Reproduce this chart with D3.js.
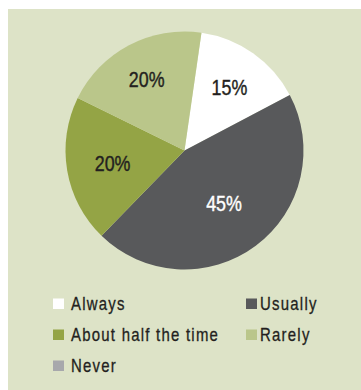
<!DOCTYPE html>
<html>
<head>
<meta charset="utf-8">
<script src="https://cdn.jsdelivr.net/npm/d3@7/dist/d3.min.js"></script>
<style>
  html, body { margin: 0; padding: 0; background: #ffffff; }
  svg { display: block; }
  .pct { font-family: "Liberation Sans", Arial, sans-serif; font-size: 21.5px; stroke-width: 0.4px; }
  .leg { font-family: "Liberation Sans", Arial, sans-serif; font-size: 18px; letter-spacing: 1.5px; fill: #231f20; stroke: #231f20; stroke-width: 0.3px; }
</style>
</head>
<body>
<svg id="chart" width="361" height="390"></svg>
<script>
// Survey answers and their shares (percent)
const categories = ["Always", "Usually", "About half the time", "Rarely", "Never"];
const shares = [15, 45, 20, 20, 0];
const sliceColors = ["#ffffff", "#58595b", "#94a445", "#bac68a", "#a7a8ac"];
const labelColors = ["#231f20", "#ffffff", "#231f20", "#231f20", "#231f20"];

// Legend arrangement: two columns, filled row by row
const legendColumns = 2;

const W = 361, H = 390;
const svg = d3.select("#chart");

// Condensed look for all text: squeeze glyphs horizontally
const condense = 0.83;

// Panel background
svg.append("rect")
  .attr("x", 8).attr("y", 9)
  .attr("width", W - 8).attr("height", H - 9)
  .attr("fill", "#dde3c7");

const cx = 184.5, cy = 150.5, R = 119;
const startDeg = 8.2;
const start = startDeg * Math.PI / 180;

const data = categories.map((c, i) => ({ category: c, value: shares[i], i }));

const pie = d3.pie()
  .value(d => d.value)
  .sort(null)
  .startAngle(start)
  .endAngle(start + 2 * Math.PI);

const arcs = pie(data);
const arc = d3.arc().innerRadius(0).outerRadius(R);

const color = d3.scaleOrdinal().domain(categories).range(sliceColors);

const g = svg.append("g").attr("transform", `translate(${cx},${cy})`);

g.selectAll("path.slice")
  .data(arcs.filter(a => a.data.value > 0))
  .join("path")
  .attr("class", "slice")
  .attr("d", arc)
  .attr("fill", d => color(d.data.category));

// Percentage labels sit at a per-slice distance from the centre
const labelRadius = { "Always": 78, "Usually": 66, "About half the time": 73, "Rarely": 81 };
g.selectAll("text.pct")
  .data(arcs.filter(a => a.data.value > 0))
  .join("text")
  .attr("class", "pct")
  .attr("transform", d => {
    const r = labelRadius[d.data.category] || R * 0.65;
    const [x, y] = d3.arc().innerRadius(r).outerRadius(r).centroid(d);
    return `translate(${x},${y}) scale(${condense},1)`;
  })
  .attr("text-anchor", "middle")
  .attr("dy", "0.36em")
  .attr("fill", d => labelColors[d.data.i])
  .attr("stroke", d => labelColors[d.data.i])
  .text(d => d.data.value + "%");

// Legend
const colX = [53, 246];
const textGap = [18, 14];
const row0 = 309.5, rowStep = 31;

const leg = svg.append("g");
const items = leg.selectAll("g.item")
  .data(data)
  .join("g")
  .attr("class", "item")
  .attr("transform", d => {
    const col = d.i % legendColumns, row = Math.floor(d.i / legendColumns);
    return `translate(${colX[col]},${row0 + row * rowStep})`;
  });

items.append("rect")
  .attr("x", 0).attr("y", -11)
  .attr("width", 11).attr("height", 10.5)
  .attr("fill", d => color(d.category));

items.append("text")
  .attr("class", "leg")
  .attr("transform", d => `translate(${textGap[d.i % legendColumns]},0) scale(${condense},1)`)
  .text(d => d.category);
</script>
</body>
</html>
